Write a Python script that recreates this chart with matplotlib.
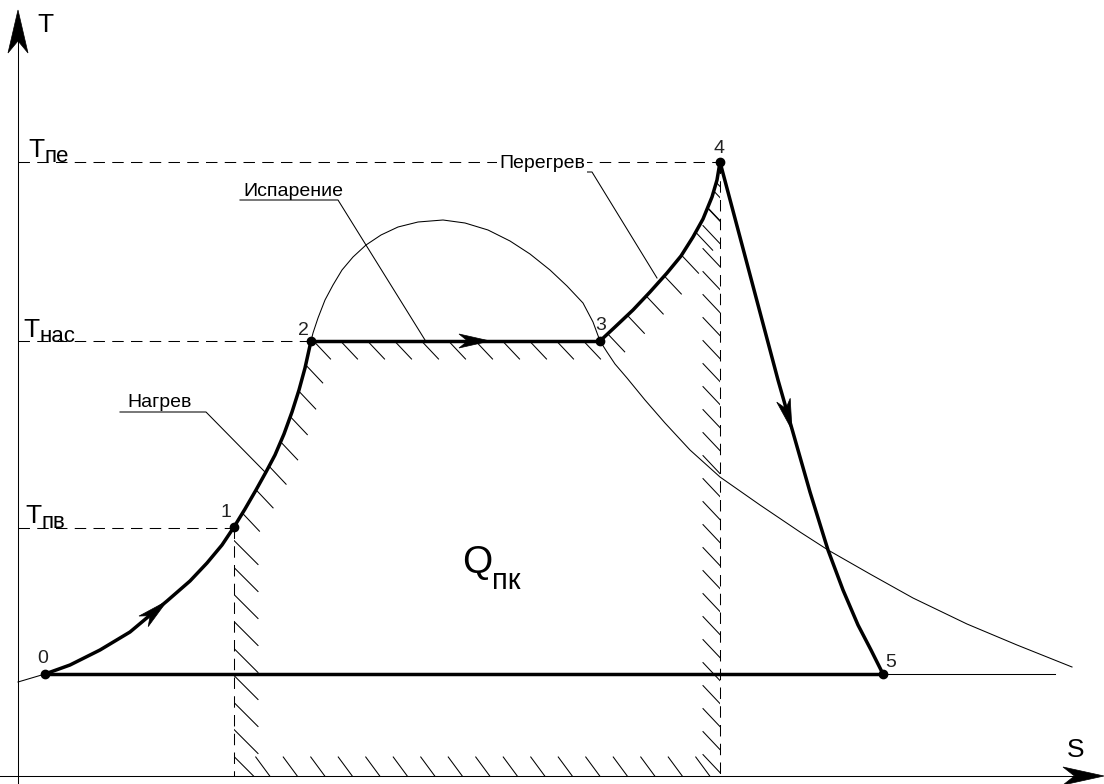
import numpy as np
import matplotlib.pyplot as plt
from matplotlib.patches import Polygon

plt.rcParams['font.family'] = ['Liberation Sans', 'DejaVu Sans']

# точки процесса (x, y) в координатах рисунка, y растёт вниз
heat_x = [45, 70, 100, 130, 167, 190, 207, 222, 234]
heat_y = [674, 665, 650, 632, 601, 581, 563, 545, 527]
rise_x = [234, 245, 256, 266, 275, 284, 292, 299, 305, 311]
rise_y = [527, 509, 490, 472, 455, 434, 412, 390, 368, 341]
evap_x = [311, 600]
evap_y = [341, 341]
super_x = [600, 615, 633, 650, 667, 681, 693, 703, 712, 717, 720]
super_y = [341, 327, 310, 292, 273, 256, 237, 219, 197, 180, 162]
expand_x = [720, 778, 810, 828, 843, 858, 871, 883]
expand_y = [162, 380, 492, 550, 590, 625, 650, 674]
base_x = [45, 883]
base_y = [674, 674]
tail_x = [883, 1055]

# пограничная кривая
dome_top_x = [313, 318, 325, 333, 342, 353, 366, 381, 398, 418, 443, 465, 488, 510, 530, 550,
              567, 583, 593, 600]
dome_top_y = [333, 318, 300, 285, 270, 257, 245, 235, 227, 222, 220, 223, 230, 241, 254, 270,
              286, 303, 322, 341]
dome_right_x = [607, 615, 627, 645, 665, 690, 720, 760, 800, 828, 870, 913, 967, 1017, 1072]
dome_right_y = [352, 364, 378, 400, 423, 450, 477, 505, 532, 550, 574, 598, 624, 645, 667]
dome_x = [18] + heat_x + rise_x[1:] + dome_top_x + dome_right_x
dome_y = [682] + heat_y + rise_y[1:] + dome_top_y + dome_right_y

pt_x = [45, 234, 311, 600, 720, 883]
pt_y = [674, 527, 341, 341, 162, 674]
pt_lbl = ['0', '1', '2', '3', '4', '5']
pt_lbl_x = [37, 220, 298, 595, 713, 885]
pt_lbl_y = [663, 517, 335, 330, 153, 667]

lev_y = [162, 341, 528]          # Tпе, Tнас, Tпв
lev_end = [720, 311, 234]
lev_sub = ['пе', 'нас', 'пв']
lev_lbl_x = [28, 23, 25]
lev_lbl_y = [157, 337, 523]

arrow_x = [167, 490, 792]
arrow_y = [601, 341, 430]

y_axis, x_axis = 18, 776
s1, s4 = 234, 720

fig = plt.figure(figsize=(11.04, 7.84), dpi=100)
ax = fig.add_axes([0, 0, 1, 1])
ax.set_xlim(0, 1104)
ax.set_ylim(784, 0)
ax.axis('off')

K = 'black'
thin = 0.75
bold = 2.5
dash = dict(color=K, lw=thin, dashes=(11, 7))


def head(tip, d, length, width, notch=0.28):
    d = np.array(d, float)
    d /= np.hypot(*d)
    n = np.array([-d[1], d[0]])
    tip = np.array(tip, float)
    back = tip - length * d
    pts = [tip, back + width / 2 * n, tip - (1 - notch) * length * d, back - width / 2 * n]
    ax.add_patch(Polygon(pts, closed=True, facecolor=K, edgecolor=K, lw=0.5, zorder=5))


# оси
ax.plot([y_axis, y_axis], [784, 40], color=K, lw=thin)
ax.plot([0, 1075], [x_axis, x_axis], color=K, lw=thin)
head((y_axis, 10), (0, -1), 43, 20)
head((1104, x_axis), (1, 0), 41, 18)
ax.text(37, 32, 'T', fontsize=19)
ax.text(1067, 757, 'S', fontsize=19)

# пограничная кривая и горизонталь
ax.plot(dome_x, dome_y, color=K, lw=thin)
ax.plot(tail_x, [base_y[1]] * 2, color=K, lw=thin)

# пунктиры уровней температур
for y, xe, sub, lx, ly in zip(lev_y, lev_end, lev_sub, lev_lbl_x, lev_lbl_y):
    ax.plot([y_axis, xe], [y, y], **dash)
    t = ax.text(lx, ly, 'T', fontsize=19)
    ax.annotate(sub, xy=(1, 0), xycoords=t, fontsize=16, va='baseline')
ax.plot([s1, s1], [527, x_axis], **dash)
ax.plot([s4, s4], [162, x_axis], **dash)

# процесс
for xs, ys in [(heat_x, heat_y), (rise_x, rise_y), (evap_x, evap_y),
               (super_x, super_y), (expand_x, expand_y), (base_x, base_y)]:
    ax.plot(xs, ys, color=K, lw=bold, solid_capstyle='round', solid_joinstyle='round', zorder=4)
ax.plot(pt_x, pt_y, 'o', color=K, ms=6, zorder=6)
for s, x, y in zip(pt_lbl, pt_lbl_x, pt_lbl_y):
    ax.text(x, y, s, fontsize=14, color='#222222')

# стрелки направления
for ax_, ay_ in zip(arrow_x, arrow_y):
    best = None
    for xs, ys in [(heat_x, heat_y), (evap_x, evap_y), (expand_x, expand_y)]:
        for i in range(len(xs) - 1):
            if min(xs[i], xs[i + 1]) - 1 <= ax_ <= max(xs[i], xs[i + 1]) + 1 and \
               min(ys[i], ys[i + 1]) - 1 <= ay_ <= max(ys[i], ys[i + 1]) + 1:
                best = (xs[i + 1] - xs[i], ys[i + 1] - ys[i])
    head((ax_, ay_), best, 31, 14)

# штриховка области Qпк
top_x = rise_x + evap_x[1:] + super_x[1:]
top_y = rise_y + evap_y[1:] + super_y[1:]
region = Polygon(list(zip(top_x, top_y)) + [(s4, x_axis), (s1, x_axis)], closed=True,
                 fill=False, lw=0, transform=ax.transData)
ax.add_patch(region)


def hatch(xs, ys, step, dx, dy, start=0.5):
    pts = np.column_stack([xs, ys]).astype(float)
    seg = np.diff(pts, axis=0)
    L = np.hypot(seg[:, 0], seg[:, 1])
    cum = np.concatenate([[0], np.cumsum(L)])
    for s in np.arange(step * start, cum[-1], step):
        i = min(np.searchsorted(cum, s, side='right') - 1, len(L) - 1)
        p = pts[i] + (s - cum[i]) / L[i] * seg[i]
        ln, = ax.plot([p[0], p[0] + dx], [p[1], p[1] + dy], color=K, lw=thin)
        ln.set_clip_path(region)


hatch(top_x, top_y, 27, 17, 18, start=0.6)
hatch([s1, s1], [527, x_axis], 27, 24, 24, start=0.5)
hatch([s4, s4], [170, x_axis + 1], 23, -17, -18, start=1.2)
hatch([s1, s4], [x_axis, x_axis], 27.5, -14, -19, start=1.3)

# подписи с выносками
ax.text(127, 407, 'Нагрев', fontsize=14)
ax.plot([120, 206, 265], [412, 412, 472], color=K, lw=thin)
ax.text(243, 196, 'Испарение', fontsize=14)
ax.plot([240, 338, 425], [200, 200, 340], color=K, lw=thin)
ax.text(499, 168, 'Перегрев', fontsize=14, zorder=3,
        bbox=dict(facecolor='white', edgecolor='none', pad=1.5))
ax.plot([498, 592, 657], [172, 172, 278], color=K, lw=thin)

t = ax.text(462, 573, 'Q', fontsize=28)
ax.annotate('пк', xy=(1, 0), xycoords=t, xytext=(0, -8), textcoords='offset pixels',
            fontsize=21, va='baseline')

fig.savefig('out.png', dpi=100)
